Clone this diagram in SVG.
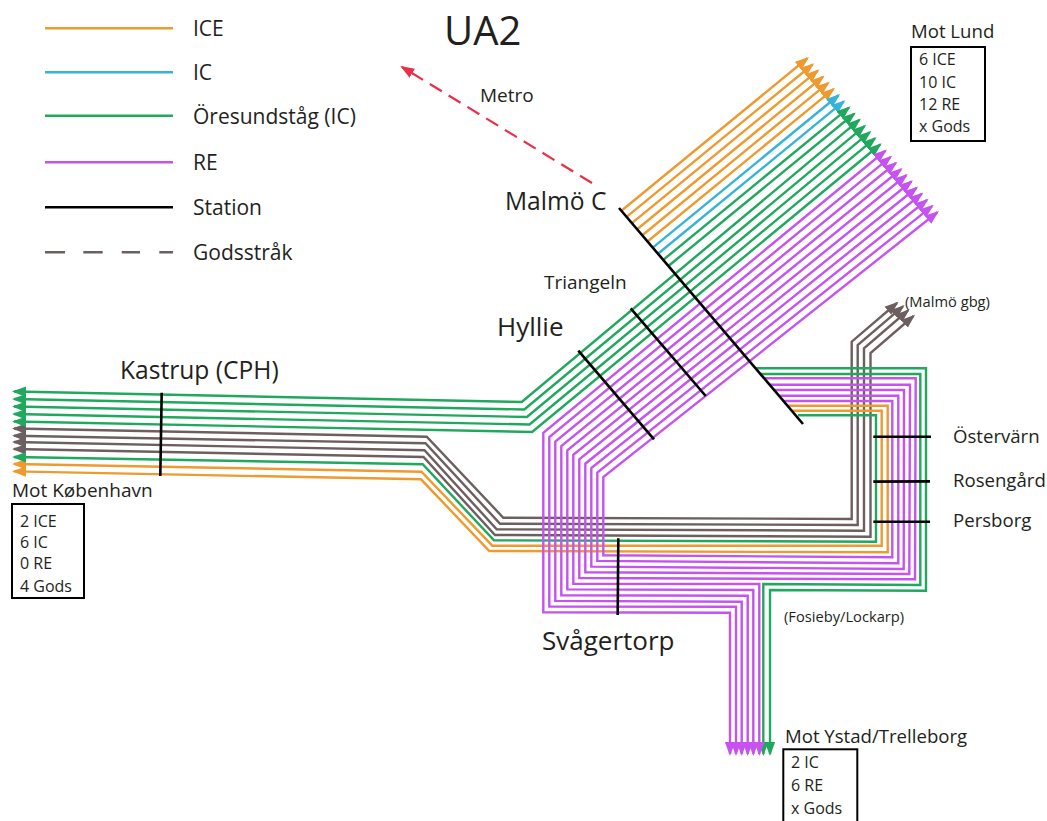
<svg xmlns="http://www.w3.org/2000/svg" width="1047" height="821" viewBox="0 0 1047 821">
<style>
text{font-family:"Open Sans","Noto Sans","Liberation Sans",sans-serif;fill:#231f20}
.xl{font-size:40px}.l{font-size:24.6px}.k{font-size:26px}.m{font-size:19px}.n{font-size:18.6px}.lg{font-size:21px}.s{font-size:16px}.x{font-size:14.7px}
polyline{fill:none;stroke-width:2.4}
.o{stroke:#ee9a2e;marker-end:url(#mo)}
.c{stroke:#35b3d8;marker-end:url(#mc)}
.g{stroke:#1fa85e;marker-end:url(#mg)}
.gs{marker-start:url(#mg)}
.p{stroke:#c653f0;marker-end:url(#mp)}
.ps{marker-start:url(#mp)}
.y{stroke:#6d5f5f;marker-end:url(#my);marker-start:url(#my)}
.leg{stroke-width:2.4;fill:none}
.st{stroke:#000;stroke-width:2.6;fill:none}
.box{fill:none;stroke:#000;stroke-width:2}
</style>
<defs>
<marker id="mo" markerUnits="userSpaceOnUse" markerWidth="16" markerHeight="12" refX="12" refY="6" orient="auto-start-reverse"><path d="M0 .8L14 6L0 11.2z" fill="#ee9a2e"/></marker>
<marker id="mc" markerUnits="userSpaceOnUse" markerWidth="16" markerHeight="12" refX="12" refY="6" orient="auto-start-reverse"><path d="M0 .8L14 6L0 11.2z" fill="#35b3d8"/></marker>
<marker id="mg" markerUnits="userSpaceOnUse" markerWidth="16" markerHeight="12" refX="12" refY="6" orient="auto-start-reverse"><path d="M0 .8L14 6L0 11.2z" fill="#1fa85e"/></marker>
<marker id="mp" markerUnits="userSpaceOnUse" markerWidth="16" markerHeight="12" refX="12" refY="6" orient="auto-start-reverse"><path d="M0 .8L14 6L0 11.2z" fill="#c653f0"/></marker>
<marker id="my" markerUnits="userSpaceOnUse" markerWidth="16" markerHeight="12" refX="12" refY="6" orient="auto-start-reverse"><path d="M0 .8L14 6L0 11.2z" fill="#6d5f5f"/></marker>
<marker id="mr" markerUnits="userSpaceOnUse" markerWidth="16" markerHeight="12" refX="12" refY="6" orient="auto-start-reverse"><path d="M0 .8L14 6L0 11.2z" fill="#e8304a"/></marker>
</defs>
<rect width="1047" height="821" fill="#fff"/>
<g id="legend">
<line class="leg" x1="45" y1="28.3" x2="173" y2="28.3" stroke="#ee9a2e"/>
<line class="leg" x1="45" y1="72.3" x2="173" y2="72.3" stroke="#35b3d8"/>
<line class="leg" x1="45" y1="115.7" x2="173" y2="115.7" stroke="#1fa85e"/>
<line class="leg" x1="45" y1="162.3" x2="173" y2="162.3" stroke="#c653f0"/>
<line class="leg" x1="45" y1="207.3" x2="173" y2="207.3" stroke="#000"/>
<path class="leg" d="M45 252.3H65M83.3 252.3H102.7M121.7 252.3H140M159.3 252.3H173" stroke="#6d5f5f"/>
<text class="lg" x="193" y="36">ICE</text>
<text class="lg" x="193" y="80">IC</text>
<text class="lg" x="193" y="124">Öresundståg (IC)</text>
<text class="lg" x="193" y="170">RE</text>
<text class="lg" x="193" y="215">Station</text>
<text class="lg" x="193" y="260">Godsstråk</text>
</g>
<text class="xl" x="444" y="45">UA2</text>
<g id="connectors">
<g id="freight">
<polyline class="y" points="14,428.5 426.7,436.7 503.3,517.7 851.7,519 851.7,341.7 897,303"/>
<polyline class="y" points="14,435.8 425.5,443.3 500,523.7 857.7,525 857.7,345 903,306.3"/>
<polyline class="y" points="14,442 424.5,450.3 496.7,529.3 864,530.7 864,348.3 908,310.5"/>
<polyline class="y" points="14,449 423.5,457 495,535 870.5,536.7 870.5,353 913.5,316"/>
</g>
<g id="ice">
<polyline class="o" points="621.4,210.8 807.4,58.3"/>
<polyline class="o" points="626.6,216.9 812.6,64.5"/>
<polyline class="o" points="631.9,223.1 817.8,70.6"/>
<polyline class="o" points="637.1,229.2 823,76.8"/>
<polyline class="o" points="642.3,235.3 828.2,82.9"/>
<polyline class="o" points="647.5,241.5 833.4,89.1"/>
<polyline class="o" points="791.7,410.7 881.7,410.7 881.7,545.7 492.3,545.7 421.5,471.7 14,464"/>
<polyline class="o" points="787.4,405.7 887.7,405.7 887.7,552.3 489.3,551 421,479.3 14,471.4"/>
</g>
<g id="ic">
<polyline class="c" points="652.8,247.6 838.6,95.3"/>
<polyline class="c" points="658,253.7 843.8,101.4"/>
</g>
<g id="oresund">
<polyline class="g" points="663.2,259.9 849,107.6"/>
<polyline class="g" points="668.4,266 854.2,113.7"/>
<polyline class="g gs" points="14,391.5 521.7,402 859.4,119.9"/>
<polyline class="g gs" points="14,399 524.3,409.5 864.6,126.1"/>
<polyline class="g gs" points="14,406.5 526.9,417 869.8,132.2"/>
<polyline class="g gs" points="14,414 529.5,424.5 875,138.4"/>
<polyline class="g gs" points="14,421.5 532.1,432 880.2,144.5"/>
<polyline class="g" points="798,415.3 876,415.3 876,541.7 494,540.3 422.7,464.3 14,457"/>
<polyline class="g" points="755.6,368.3 926,368.3 926,590.7 770,590 770,754"/>
<polyline class="g" points="760.4,374 920.3,374 920.3,585 763.3,584 763.3,754"/>
</g>
<g id="re">
<polyline class="p ps" points="885.4,150.7 543.3,432.7 543.3,612.3 730,612.7 730,754"/>
<polyline class="p ps" points="890.6,156.9 549.3,437.1 549.3,606.6 736,606.7 736,754"/>
<polyline class="p ps" points="895.8,163 555.3,441.6 555.3,600.9 741.7,601.7 741.7,754"/>
<polyline class="p ps" points="901,169.2 561.3,446 561.3,595.2 747.7,595.7 747.7,754"/>
<polyline class="p ps" points="906.2,175.3 567.3,450.4 567.3,589.4 753.3,590 753.3,754"/>
<polyline class="p ps" points="911.4,181.5 573.3,454.9 573.3,583.7 759.3,584 759.3,754"/>
<polyline class="p" points="764,378.3 915.7,378.3 915,579.3 579.3,578 579.3,459.3 916.6,187.7"/>
<polyline class="p" points="769.5,384.7 910,384.7 909.3,574 585.3,572.3 585.3,463.7 921.8,193.8"/>
<polyline class="p" points="774,390 904,390 903.7,569 591.3,566.6 591.3,468.1 927,200"/>
<polyline class="p" points="779,395.7 898.3,395.7 898.3,563.3 597.3,560.9 597.3,472.6 932.2,206.1"/>
<polyline class="p" points="783.4,401 892.3,401 892.3,557.3 603.3,555.2 603.3,477 937.4,212.3"/>
</g>
<g id="metro">
<line x1="592" y1="183" x2="402" y2="67" stroke="#e8304a" stroke-width="2.2" stroke-dasharray="14 8" marker-end="url(#mr)"/>
</g>
</g>
<text class="m" x="480" y="102">Metro</text>
<g id="kastrup"><line class="st" x1="161.7" y1="392.7" x2="160.3" y2="476"/><text class="l" x="120" y="379">Kastrup (CPH)</text></g>
<g id="malmo-c"><line class="st" x1="619" y1="208" x2="803" y2="424"/><text class="l" x="505" y="210">Malmö C</text></g>
<g id="triangeln"><line class="st" x1="630.7" y1="308.3" x2="705.7" y2="396"/><text class="m" x="544" y="289">Triangeln</text></g>
<g id="hyllie"><line class="st" x1="578.3" y1="350.7" x2="654" y2="439.3"/><text class="k" x="497" y="336">Hyllie</text></g>
<g id="svagertorp"><line class="st" x1="618.3" y1="538.3" x2="617.7" y2="615"/><text class="k" x="542" y="650">Svågertorp</text></g>
<g id="ostervarn"><line class="st" x1="873.3" y1="436.7" x2="931" y2="436.7"/><text class="n" x="953" y="443">Östervärn</text></g>
<g id="rosengard"><line class="st" x1="873.3" y1="481.6" x2="930" y2="481.4"/><text class="n" x="953" y="487">Rosengård</text></g>
<g id="persborg"><line class="st" x1="873.3" y1="521.7" x2="930" y2="521.7"/><text class="n" x="953" y="527">Persborg</text></g>
<g id="mot-kobenhavn">
<text class="m" x="12" y="497">Mot København</text>
<rect class="box" x="12" y="504" width="72" height="94"/>
<text class="s" x="20" y="527">2 ICE</text><text class="s" x="20" y="548">6 IC</text><text class="s" x="20" y="569">0 RE</text><text class="s" x="20" y="592">4 Gods</text>
</g>
<g id="mot-lund">
<text class="n" x="911" y="38">Mot Lund</text>
<rect class="box" x="911" y="47" width="74" height="94"/>
<text class="s" x="919" y="65">6 ICE</text><text class="s" x="919" y="88">10 IC</text><text class="s" x="919" y="110">12 RE</text><text class="s" x="919" y="132">x Gods</text>
</g>
<g id="mot-ystad">
<text class="n" x="785" y="743">Mot Ystad/Trelleborg</text>
<rect class="box" x="783.3" y="749.3" width="74" height="80"/>
<text class="s" x="791" y="768">2 IC</text><text class="s" x="791" y="791">6 RE</text><text class="s" x="791" y="814">x Gods</text>
</g>
<text class="x" x="905" y="307">(Malmö gbg)</text>
<text class="x" x="784" y="622">(Fosieby/Lockarp)</text>
</svg>
